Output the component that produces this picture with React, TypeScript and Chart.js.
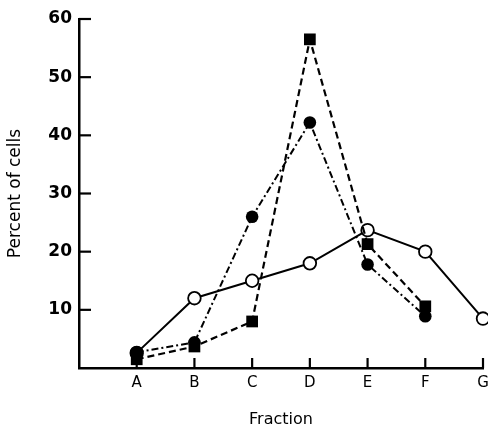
import React, { useEffect, useRef } from "react";
import { Chart, registerables } from "chart.js";

Chart.register(...registerables);

const categories = ["", "A", "B", "C", "D", "E", "F", "G"];
const yTicks = [10, 20, 30, 40, 50, 60];
// values at fraction positions A..G (x = 1..7)
const openCircles = [2.6, 12, 15, 18, 23.7, 20, 8.5];
const filledSquares = [1.5, 3.7, 8, 56.5, 21.3, 10.6];
const filledCircles = [2.7, 4.4, 26, 42.2, 17.8, 8.9];

const toPoints = (vals: number[]) => vals.map((v, i) => ({ x: i + 1, y: v }));

const inwardTicks = {
  id: "inwardTicks",
  afterDraw(chart: any) {
    const { ctx, chartArea, scales } = chart;
    ctx.save();
    ctx.strokeStyle = "#000";
    ctx.lineWidth = 2.2;
    ctx.setLineDash([]);
    yTicks.forEach((t) => {
      const y = scales.y.getPixelForValue(t);
      ctx.beginPath();
      ctx.moveTo(chartArea.left, y);
      ctx.lineTo(chartArea.left + 12, y);
      ctx.stroke();
    });
    for (let i = 1; i < categories.length; i++) {
      const x = scales.x.getPixelForValue(i);
      ctx.beginPath();
      ctx.moveTo(x, chartArea.bottom);
      ctx.lineTo(x, chartArea.bottom - 10);
      ctx.stroke();
    }
    ctx.restore();
  },
};

export default function App() {
  const ref = useRef<HTMLCanvasElement>(null);
  useEffect(() => {
    document.body.style.margin = "0";
    const font = "'DejaVu Sans', 'Liberation Sans', sans-serif";
    const chart = new Chart(ref.current!, {
      type: "line",
      data: {
        datasets: [
          {
            data: toPoints(filledSquares),
            borderColor: "#000",
            borderWidth: 2.2,
            borderDash: [7, 4],
            pointStyle: "rect",
            pointRadius: 8.3,
            pointBackgroundColor: "#000",
            pointBorderColor: "#000",
            pointBorderWidth: 0,
          },
          {
            data: toPoints(filledCircles),
            borderColor: "#000",
            borderWidth: 2,
            borderDash: [7, 3, 2, 3],
            pointStyle: "circle",
            pointRadius: 6.3,
            pointBackgroundColor: "#000",
            pointBorderColor: "#000",
            pointBorderWidth: 0,
          },
          {
            data: toPoints(openCircles),
            borderColor: "#000",
            borderWidth: 2,
            pointStyle: "circle",
            pointRadius: 6.3,
            pointBackgroundColor: "#fff",
            pointBorderColor: "#000",
            pointBorderWidth: 1.8,
          },
        ],
      },
      options: {
        animation: false,
        responsive: false,
        clip: false as any,
        layout: { autoPadding: false, padding: { top: 19, right: 5, left: 0, bottom: 0 } },
        plugins: { legend: { display: false }, tooltip: { enabled: false } },
        scales: {
          x: {
            type: "linear",
            min: 0,
            max: 7,
            afterFit: (s: any) => {
              s.height = 59;
              s.paddingLeft = 0;
              s.paddingRight = 0;
            },
            ticks: {
              stepSize: 1,
              autoSkip: false,
              maxRotation: 0,
              padding: 6,
              color: "#000",
              font: { family: font, size: 15 },
              callback: (v: any) => categories[v as number] ?? "",
            },
            grid: { display: true, drawOnChartArea: false, drawTicks: false },
            border: { display: true, color: "#000", width: 2.5 },
            title: {
              display: true,
              text: "Fraction",
              color: "#000",
              font: { family: font, size: 16, lineHeight: 0.9 },
              padding: { top: 0, bottom: 0 },
            },
          },
          y: {
            min: 0,
            max: 60,
            afterFit: (s: any) => {
              s.width = 79;
              s.paddingTop = 0;
              s.paddingBottom = 0;
            },
            ticks: {
              stepSize: 10,
              padding: 7,
              color: "#000",
              font: { family: font, size: 17, weight: "bold" },
              callback: (v: any) => (v === 0 ? "" : String(v)),
            },
            grid: { display: true, drawOnChartArea: false, drawTicks: false },
            border: { display: true, color: "#000", width: 2.5 },
            title: {
              display: true,
              text: "Percent of cells",
              color: "#000",
              font: { family: font, size: 17, lineHeight: 1.2 },
              padding: { top: 5, bottom: 0 },
            },
          },
        },
      },
      plugins: [inwardTicks],
    });
    return () => chart.destroy();
  }, []);
  return (
    <div style={{ width: 488, height: 427 }}>
      <canvas ref={ref} width={488} height={427} />
    </div>
  );
}
